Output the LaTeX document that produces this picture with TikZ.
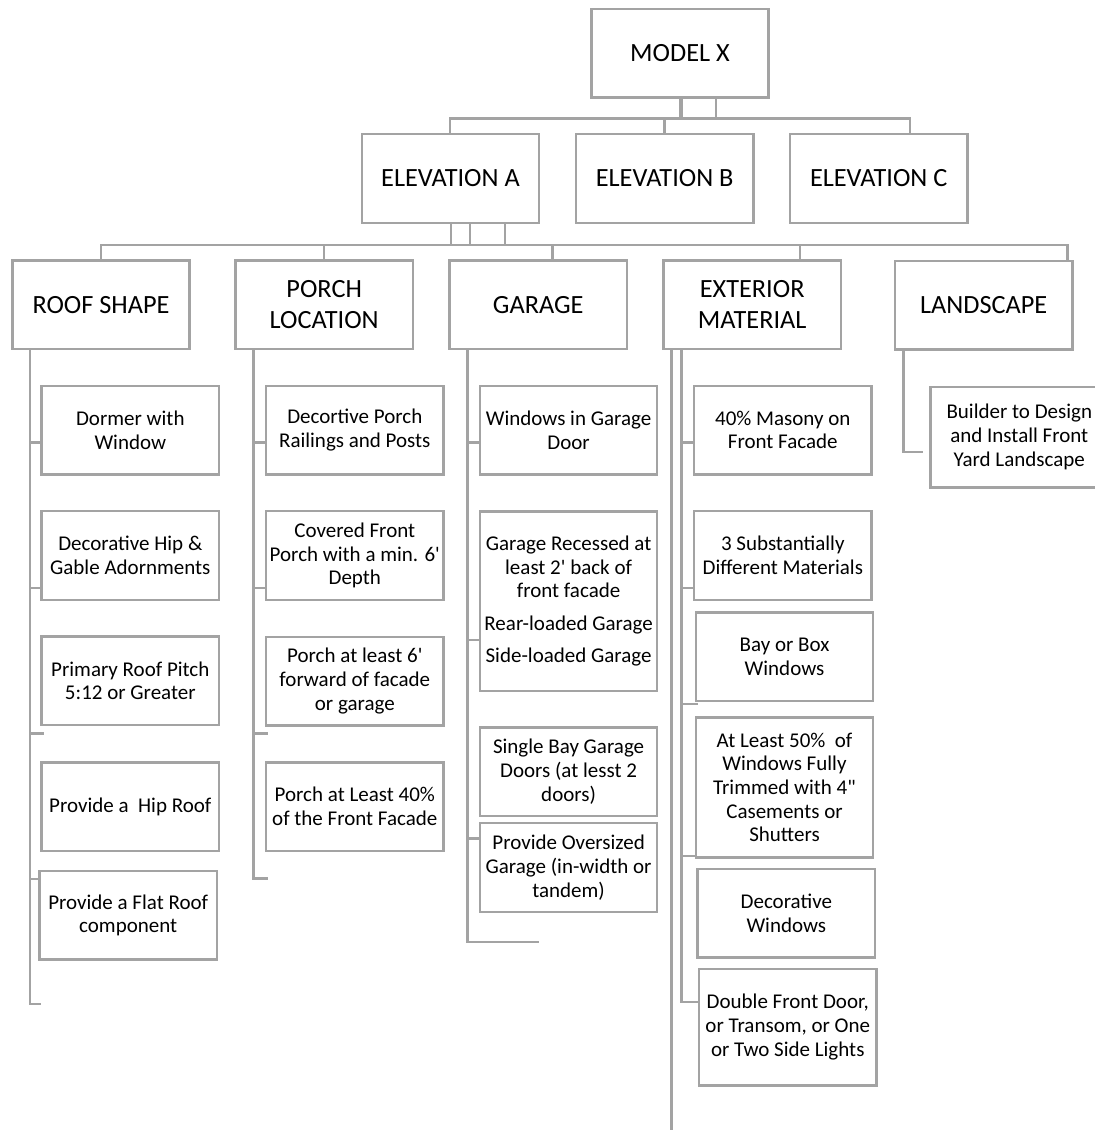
\documentclass[tikz,border=0pt]{standalone}
\usepackage{fontspec}
\setmainfont{Carlito}
\definecolor{lineg}{RGB}{163,163,163}
\tikzset{
  bx/.style={draw=lineg, line width=2.4pt, rectangle, inner sep=0pt, align=center,
             minimum width=177.3pt, minimum height=88.6pt, text=black},
  hd/.style={bx, font=\fontsize{26.3}{30.6}\selectfont},
  sm/.style={bx, font=\fontsize{21}{23.7}\selectfont},
  ln/.style={draw=lineg, line width=2.4pt},
}
\newcommand{\sq}{\textquotesingle}
\begin{document}
\begin{tikzpicture}[x=1pt,y=-1pt]
\useasboundingbox (0,0) rectangle (1095,1130);
\clip (0,0) rectangle (1095,1130);
\fill[white] (0,0) rectangle (1095,1130);

% ---------- level 0 and 1 ----------
\node[hd] (mx) at (680,53.2) {MODEL X};
\node[hd] (ea) at (450.5,178.5) {ELEVATION A};
\node[hd] (eb) at (664.7,178.5) {ELEVATION B};
\node[hd] (ec) at (878.7,178.5) {ELEVATION C};

% ---------- level 2 ----------
\node[hd] (rs) at (101,304.6) {ROOF SHAPE};
\node[hd] (pl) at (324.2,304.6) {PORCH\\LOCATION};
\node[hd] (gr) at (538.2,304.6) {GARAGE};
\node[hd] (ex) at (752.2,304.6) {EXTERIOR\\MATERIAL};
\node[hd] (ls) at (983.7,305.2) {LANDSCAPE};

% ---------- roof column ----------
\node[sm] (r1) at (130.3,430) {Dormer with\\Window};
\node[sm] (r2) at (130.3,555.5) {Decorative Hip \&\\Gable Adornments};
\node[sm] (r3) at (130.3,680.8) {Primary Roof Pitch\\5:12 or Greater};
\node[sm] (r4) at (130.3,806.6) {Provide a\ \ Hip Roof};
\node[sm] (r5) at (128.2,915.3) {Provide a Flat Roof\\component};

% ---------- porch column ----------
\node[sm] (p1) at (354.8,430) {Decortive Porch\\Railings and Posts};
\node[sm] (p2) at (354.8,555.5) {Covered Front\\Porch with a min. 6\sq\\Depth};
\node[sm] (p3) at (354.8,681) {Porch at least 6\sq\\forward of facade\\or garage};
\node[sm] (p4) at (354.8,806.6) {Porch at Least 40\%\\of the Front Facade};

% ---------- garage column ----------
\node[sm] (g1) at (568.6,430) {Windows in Garage\\Door};
\node[sm, minimum height=179.4pt] (g2) at (568.6,601) {Garage Recessed at\\least 2\sq{} back of\\front facade\\[8.7pt]Rear-loaded Garage\\[8.7pt]Side-loaded Garage};
\node[sm] (g3) at (568.6,771.7) {Single Bay Garage\\Doors (at lesst 2\\doors)};
\node[sm] (g4) at (568.6,867.5) {Provide Oversized\\Garage (in-width or\\tandem)};

% ---------- exterior column ----------
\node[sm] (e1) at (782.8,430) {40\% Masony on\\Front Facade};
\node[sm] (e2) at (782.8,555.5) {3 Substantially\\Different Materials};
\node[sm] (e3) at (784.5,656.7) {Bay or Box\\Windows};
\node[sm, minimum height=140pt] (e4) at (784.5,787.3) {At Least 50\%\ \ of\\Windows Fully\\Trimmed with 4\textquotedbl\\Casements or\\Shutters};
\node[sm] (e5) at (786.3,913.2) {Decorative\\Windows};
\node[sm, minimum height=116.6pt] (e6) at (787.8,1027) {Double Front Door,\\or Transom, or One\\or Two Side Lights};

% ---------- landscape ----------
\node[sm, minimum height=100.6pt] (l1) at (1019.3,437) {Builder to Design\\and Install Front\\Yard Landscape};

% ---------- connectors: top ----------
\draw[ln] (mx.south -| 679.8,0) -- (679.8,118.3);
\draw[ln] (mx.south -| 682.2,0) -- (682.2,118.3);
\draw[ln] (mx.south -| 715.7,0) -- (715.7,118.3);
\draw[ln] (ea.north -| 450,0) -- (450,118.3) -- (910,118.3) -- (ec.north -| 910,0);
\draw[ln] (664.5,118.3) -- (eb.north -| 664.5,0);

\draw[ln] (ea.south -| 451,0) -- (451,244.7);
\draw[ln] (ea.south -| 470,0) -- (470,244.7);
\draw[ln] (ea.south -| 505,0) -- (505,244.7);
\draw[ln] (rs.north -| 101,0) -- (101,244.7) -- (1067.3,244.7) -- (ls.north -| 1067.3,0);
\draw[ln] (324,244.7) -- (pl.north -| 324,0);
\draw[ln] (552.3,244.7) -- (gr.north -| 552.3,0);
\draw[ln] (799.7,244.7) -- (ex.north -| 799.7,0);

% ---------- roof ----------
\draw[ln] (rs.south -| 30,0) -- (30,1004) -- (40.7,1004);
\draw[ln] (30,442.3) -- (30,442.3 -| r1.west);
\draw[ln] (30,588) -- (30,588 -| r2.west);
\draw[ln] (30,733.3) -- (43.7,733.3);
\draw[ln] (30,878.7) -- (30,878.7 -| r5.west);

% ---------- porch ----------
\draw[ln] (pl.south -| 253.3,0) -- (253.3,878.3) -- (268,878.3);
\draw[ln] (253.3,442.3) -- (253.3,442.3 -| p1.west);
\draw[ln] (253.3,588) -- (253.3,588 -| p2.west);
\draw[ln] (253.3,733.3) -- (268,733.3);

% ---------- garage ----------
\draw[ln] (gr.south -| 467.3,0) -- (467.3,942) -- (539.3,942);
\draw[ln] (467.3,442.3) -- (467.3,442.3 -| g1.west);
\draw[ln] (467.3,640) -- (467.3,640 -| g2.west);
\draw[ln] (467.3,838.3) -- (467.3,838.3 -| g4.west);

% ---------- exterior ----------
\draw[ln] (ex.south -| 671.5,0) -- (671.5,1135);
\draw[ln] (ex.south -| 681.3,0) -- (681.3,1001.7) -- (681.3,1001.7 -| e6.west);
\draw[ln] (681.3,442.3) -- (681.3,442.3 -| e1.west);
\draw[ln] (681.3,588) -- (681.3,588 -| e2.west);
\draw[ln] (681.3,704) -- (697.7,704);
\draw[ln] (681.3,856) -- (681.3,856 -| e4.west);

% ---------- landscape ----------
\draw[ln] (ls.south -| 903.3,0) -- (903.3,451.7) -- (922.7,451.7);
\end{tikzpicture}
\end{document}
